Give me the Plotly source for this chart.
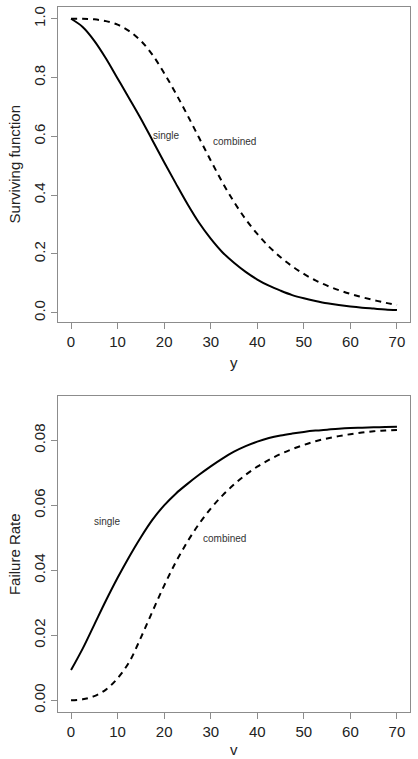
import plotly.graph_objects as go

# ---- data ----
t = [0, 2.5, 5, 7.5, 10, 12.5, 15, 17.5, 20, 22.5, 25, 27.5, 30, 32.5, 35, 37.5,
     40, 42.5, 45, 47.5, 50, 52.5, 55, 57.5, 60, 62.5, 65, 67.5, 70]

surv_single = [1.0, 0.972, 0.925, 0.865, 0.797, 0.729, 0.66, 0.586, 0.512, 0.44,
               0.37, 0.306, 0.252, 0.206, 0.17, 0.139, 0.113, 0.092, 0.075, 0.060,
               0.049, 0.040, 0.032, 0.026, 0.021, 0.017, 0.014, 0.011, 0.009]
surv_combined = [1.0, 1.0, 0.998, 0.992, 0.98, 0.958, 0.925, 0.877, 0.815, 0.746,
                 0.672, 0.595, 0.518, 0.444, 0.377, 0.318, 0.268, 0.225, 0.189, 0.158,
                 0.132, 0.110, 0.092, 0.077, 0.064, 0.053, 0.043, 0.034, 0.026]

rate_single = [0.0093, 0.0159, 0.0233, 0.0307, 0.0377, 0.0442, 0.0502, 0.0556,
               0.0600, 0.0636, 0.0666, 0.0694, 0.0720, 0.0744, 0.0765, 0.0782,
               0.0796, 0.0807, 0.0815, 0.0821, 0.0826, 0.0830, 0.0833, 0.0836,
               0.0838, 0.0839, 0.0840, 0.0841, 0.0842]
rate_combined = [0.0, 0.0003, 0.0013, 0.0033, 0.0068, 0.0118, 0.0193, 0.0274,
                 0.0353, 0.0425, 0.0488, 0.0543, 0.0590, 0.0630, 0.0664, 0.0694,
                 0.0719, 0.0740, 0.0758, 0.0773, 0.0786, 0.0797, 0.0806, 0.0813,
                 0.0819, 0.0824, 0.0828, 0.0830, 0.0832]

x_ticks = [0, 10, 20, 30, 40, 50, 60, 70]
surv_ticks = [0.0, 0.2, 0.4, 0.6, 0.8, 1.0]
rate_ticks = [0.00, 0.02, 0.04, 0.06, 0.08]

# ---- figure ----
FONT = "Liberation Sans, Arial, Helvetica, sans-serif"
AXC = "#8c8c8c"
TXT = "#222222"

fig = go.Figure()
solid = dict(color="black", width=2, shape="spline", smoothing=1.0)
dashed = dict(color="black", width=2, dash="6px,5px", shape="spline", smoothing=1.0)

fig.add_trace(go.Scatter(x=t, y=surv_single, mode="lines", line=solid,
                         xaxis="x", yaxis="y", showlegend=False))
fig.add_trace(go.Scatter(x=t, y=surv_combined, mode="lines", line=dashed,
                         xaxis="x", yaxis="y", showlegend=False))
fig.add_trace(go.Scatter(x=t, y=rate_single, mode="lines", line=solid,
                         xaxis="x2", yaxis="y2", showlegend=False))
fig.add_trace(go.Scatter(x=t, y=rate_combined, mode="lines", line=dashed,
                         xaxis="x2", yaxis="y2", showlegend=False))

axis_common = dict(showline=True, linecolor=AXC, linewidth=1, mirror=True,
                   ticks="outside", tickcolor=AXC, ticklen=6, tickwidth=1,
                   showgrid=False, zeroline=False,
                   tickfont=dict(family=FONT, size=15, color=TXT))

top_dom = [0.5534, 1.0]
bot_dom = [0.0, 0.448]

fig.update_layout(
    width=418, height=759,
    margin=dict(l=58, r=8, t=7, b=47),
    paper_bgcolor="white", plot_bgcolor="white",
    font=dict(family=FONT, color=TXT),
    hovermode=False,
    xaxis=dict(domain=[0, 1], anchor="y", range=[-2.8, 72.8],
               tickvals=x_ticks, **axis_common),
    yaxis=dict(domain=top_dom, anchor="x", range=[-0.031, 1.040],
               tickvals=surv_ticks, tickformat=".1f", tickangle=-90, **axis_common),
    xaxis2=dict(domain=[0, 1], anchor="y2", range=[-2.8, 72.8],
                tickvals=x_ticks, **axis_common),
    yaxis2=dict(domain=bot_dom, anchor="x2", range=[-0.0036, 0.0936],
                tickvals=rate_ticks, tickformat=".2f", tickangle=-90, **axis_common),
)

ann_font = dict(family=FONT, size=10, color="#333333")
title_font = dict(family=FONT, size=15, color=TXT)
annotations = [
    dict(x=20.6, y=0.604, xref="x", yref="y", text="single", showarrow=False, font=ann_font),
    dict(x=35.2, y=0.582, xref="x", yref="y", text="combined", showarrow=False, font=ann_font),
    dict(x=7.9, y=0.0551, xref="x2", yref="y2", text="single", showarrow=False, font=ann_font),
    dict(x=32.9, y=0.0497, xref="x2", yref="y2", text="combined", showarrow=False, font=ann_font),
    # axis titles
    dict(x=35, y=top_dom[0], xref="x", yref="paper", yshift=-41, text="y",
         xanchor="center", yanchor="middle", showarrow=False, font=title_font),
    dict(x=35, y=bot_dom[0], xref="x2", yref="paper", yshift=-37, text="v",
         xanchor="center", yanchor="middle", showarrow=False, font=title_font),
    dict(x=0, y=0.5, xref="paper", yref="y domain", xshift=-44, text="Surviving function",
         xanchor="center", yanchor="middle", textangle=-90, showarrow=False, font=title_font),
    dict(x=0, y=0.5, xref="paper", yref="y2 domain", xshift=-44, text="Failure Rate",
         xanchor="center", yanchor="middle", textangle=-90, showarrow=False, font=title_font),
]
fig.update_layout(annotations=annotations)

fig.write_html("out.html",
               config={"displayModeBar": False, "staticPlot": True},
               post_script="document.body.style.margin='0px';document.body.style.padding='0px';")
